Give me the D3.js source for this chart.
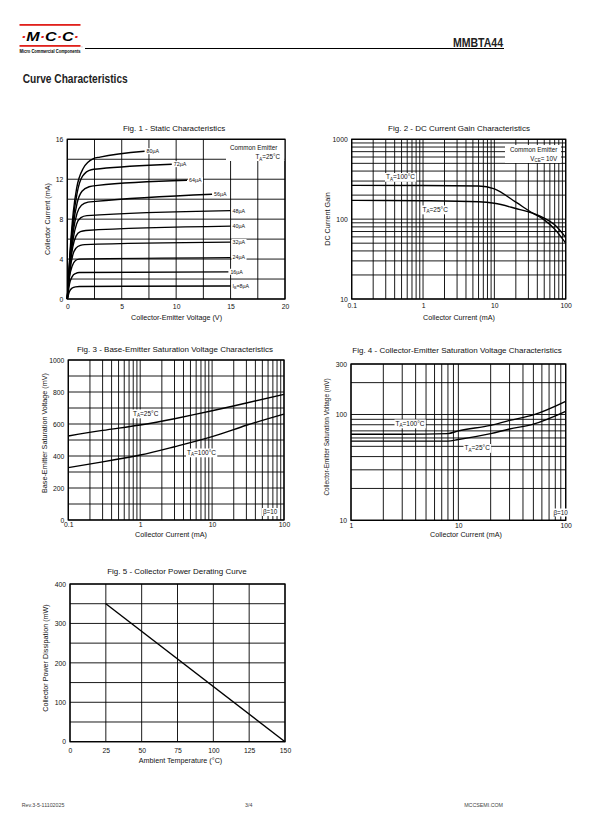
<!DOCTYPE html>
<html><head><meta charset="utf-8">
<script src="https://cdn.jsdelivr.net/npm/d3@7/dist/d3.min.js"></script>
<style>body{margin:0;background:#fff}svg{display:block}</style>
</head><body><svg id="c" width="612" height="825"></svg>
<script>
// ---------------- DATA ----------------
const fig1Labels = ["80µA","72µA","64µA","56µA","48µA","40µA","32µA","24µA","16µA","8µA"];
const fig1Curve80 = [[0,0],[0.25,4.7],[0.55,8.7],[0.86,11.1],[1.47,13.1],[2.4,14.07],[3.0,14.22],[7.1,14.8]];
const fig1Curve72 = [[0,0],[0.25,4.4],[0.55,8.0],[0.9,10.6],[1.4,12.3],[2.2,12.95],[3.0,13.05],[9.6,13.5]];
const fig1Curve64 = [[0,0],[0.25,4.1],[0.55,7.4],[0.9,9.6],[1.35,10.8],[2.0,11.25],[2.8,11.38],[11.0,11.9]];
const fig1Curve56 = [[0,0],[0.25,3.8],[0.55,6.8],[0.9,8.6],[1.3,9.4],[1.9,9.7],[2.6,9.78],[13.3,10.5]];
const fig1Curve48 = [[0,0],[0.25,3.5],[0.55,6.1],[0.85,7.5],[1.25,8.15],[1.8,8.35],[15,8.85]];
const fig1Curve40 = [[0,0],[0.25,3.2],[0.5,5.2],[0.8,6.3],[1.2,6.75],[1.7,6.87],[15,7.3]];
const fig1Curve32 = [[0,0],[0.25,2.9],[0.5,4.4],[0.8,5.1],[1.2,5.38],[1.6,5.45],[15,5.7]];
const fig1Curve24 = [[0,0],[0.2,2.2],[0.45,3.3],[0.75,3.85],[1.1,4.0],[15,4.15]];
const fig1Curve16 = [[0,0],[0.2,1.5],[0.45,2.25],[0.75,2.55],[1.1,2.65],[14.8,2.72]];
const fig1Curve8  = [[0,0],[0.2,0.75],[0.45,1.1],[0.75,1.22],[1.1,1.25],[15,1.3]];
const fig1XTicks = [0,5,10,15,20];
const fig1XGrid = [0,2.5,5,7.5,10,12.5,15,17.5,20];
const fig1YTicks = [0,4,8,12,16];
const fig1YGrid = [0,2,4,6,8,10,12,14,16];

const fig2Current = [0.1,1,6,10,20,35,50,70,100];
const fig2Gain100 = [265,264,260,240,163,118,98,75,50];
const fig2Gain25  = [172,170,165,158,136,118,103,85,59];
const fig2XTicks = [0.1,1,10,100];
const fig2YTicks = [10,100,1000];

const fig3Current = [0.1,0.3,1,3,10,30,100];
const fig3Vbe25  = [525,560,594,633,683,731,785];
const fig3Vbe100 = [327,363,406,458,521,592,662];
const fig3XTicks = [0.1,1,10,100];
const fig3YTicks = [0,200,400,600,800,1000];
const fig3YGrid = [0,100,200,300,400,500,600,700,800,900,1000];

const fig4Current = [1,3,8,10,20,30,50,100];
const fig4Vce100 = [65,65,66,70,79,88,99,133];
const fig4Vce25  = [56,56,56,58,66,73,81,107];
const fig4XTicks = [1,10,100];
const fig4YTicks = [10,100,300];

const fig5Temp = [25,150];
const fig5Power = [350,0];
const fig5XTicks = [0,25,50,75,100,125,150];
const fig5YTicks = [0,100,200,300,400];
const fig5YGrid = [0,50,100,150,200,250,300,350,400];

// ---------------- DRAW ----------------
const FONT = "'Liberation Sans', Arial, Helvetica, sans-serif";
const svg = d3.select("#c").attr("font-family", FONT);

function txt(g, x, y, parts, o = {}) {
  const fs = o.size || 7;
  const t = g.append("text").attr("x", x).attr("y", y)
    .attr("font-size", fs).attr("text-anchor", o.anchor || "start")
    .attr("font-weight", o.weight || "normal").attr("fill", o.fill || "#111");
  if (o.rotate) t.attr("transform", `rotate(-90,${x},${y})`);
  if (typeof parts === "string") parts = [[parts, ""]];
  let sub = false;
  parts.forEach(([s, k]) => {
    const ts = t.append("tspan").text(s);
    if (k === "sub" && !sub) { ts.attr("dy", fs * 0.28).attr("font-size", fs * 0.7); sub = true; }
    else if (k !== "sub" && sub) { ts.attr("dy", -fs * 0.28); sub = false; }
  });
  if (o.bg) {
    const b = t.node().getBBox();
    g.insert("rect", () => t.node()).attr("x", b.x - 1).attr("y", b.y).attr("width", b.width + 2)
      .attr("height", b.height).attr("fill", "#fff");
  }
  return t;
}

function panel(c) {
  const g = svg.append("g");
  const x = c.x.range([c.L, c.R]);
  const y = c.y.range([c.B, c.T]);
  g.selectAll("line.gx").data(c.xGrid).join("line").attr("class", "gx")
    .attr("x1", d => x(d)).attr("x2", d => x(d)).attr("y1", c.T).attr("y2", c.B)
    .attr("stroke", "#000").attr("stroke-width", 0.9);
  g.selectAll("line.gy").data(c.yGrid).join("line").attr("class", "gy")
    .attr("y1", d => y(d)).attr("y2", d => y(d)).attr("x1", c.L).attr("x2", c.R)
    .attr("stroke", "#000").attr("stroke-width", 0.9);
  g.append("rect").attr("x", c.L).attr("y", c.T).attr("width", c.R - c.L).attr("height", c.B - c.T)
    .attr("fill", "none").attr("stroke", "#000").attr("stroke-width", 1.3);
  const ax = d3.axisBottom(x).tickValues(c.xTicks).tickFormat(c.xFmt || (d => d)).tickSize(0).tickPadding(c.xPad == null ? 4 : c.xPad);
  const ay = d3.axisLeft(y).tickValues(c.yTicks).tickFormat(c.yFmt || (d => d)).tickSize(0).tickPadding(4);
  [[ax, `translate(0,${c.B})`], [ay, `translate(${c.L},0)`]].forEach(([a, tr]) => {
    const s = g.append("g").attr("transform", tr).call(a);
    s.select(".domain").remove();
    s.selectAll("text").attr("font-size", 6.8).attr("font-family", FONT).attr("fill", "#111");
  });
  txt(g, c.titleX, c.titleY, c.title, { size: 8, anchor: "middle" });
  txt(g, c.xlX, c.xlY, c.xLabel, { size: 7.2, anchor: "middle" });
  txt(g, c.ylX, c.ylY, c.yLabel, { size: c.ylSize || 7.2, anchor: "middle", rotate: true });
  return { g, x, y };
}

const logFmt = d => String(d);

// Header
const hd = svg.append("g");
hd.append("rect").attr("x", 19.5).attr("y", 24).attr("width", 61).attr("height", 1.8).attr("fill", "#e0201b");
hd.append("rect").attr("x", 19.5).attr("y", 45).attr("width", 61).attr("height", 1.8).attr("fill", "#e0201b");
const logo = hd.append("text").attr("x", 50).attr("y", 40.5).attr("text-anchor", "middle")
  .attr("font-size", 13).attr("font-weight", "bold").attr("font-style", "italic")
  .attr("textLength", 58).attr("lengthAdjust", "spacingAndGlyphs");
[["·", "#e0201b"], ["M", "#000"], ["·", "#e0201b"], ["C", "#000"], ["·", "#e0201b"], ["C", "#000"], ["·", "#e0201b"]]
  .forEach(([s, f]) => logo.append("tspan").text(s).attr("fill", f));
hd.append("text").attr("x", 19.5).attr("y", 53).attr("font-size", 4.6).attr("font-weight", "bold")
  .attr("textLength", 61).attr("lengthAdjust", "spacingAndGlyphs").text("Micro Commercial Components");
hd.append("text").attr("x", 81).attr("y", 48).attr("font-size", 2.5).text("®");
hd.append("line").attr("x1", 85).attr("x2", 504).attr("y1", 48.5).attr("y2", 48.5).attr("stroke", "#000").attr("stroke-width", 1);
hd.append("text").attr("x", 503).attr("y", 46.5).attr("text-anchor", "end").attr("font-size", 12.5)
  .attr("font-weight", "bold").attr("fill", "#222").attr("textLength", 50).attr("lengthAdjust", "spacingAndGlyphs").text("MMBTA44");
hd.append("text").attr("x", 22.7).attr("y", 83.3).attr("font-size", 12.5).attr("font-weight", "bold").attr("fill", "#222")
  .attr("textLength", 105).attr("lengthAdjust", "spacingAndGlyphs").text("Curve Characteristics");

// Footer
[["Rev.3-5-11102025", 21.7, "start"], ["3/4", 245, "start"], ["MCCSEMI.COM", 503, "end"]].forEach(([s, x, a]) =>
  svg.append("text").attr("x", x).attr("y", 806.5).attr("font-size", 5.3).attr("fill", "#444").attr("text-anchor", a).text(s));

// Fig 1
{
  const p = panel({
    L: 67.3, R: 285, T: 139.3, B: 299, xPad: 5,
    x: d3.scaleLinear().domain([0, 20]), y: d3.scaleLinear().domain([0, 16]),
    xGrid: fig1XGrid, yGrid: fig1YGrid, xTicks: fig1XTicks, yTicks: fig1YTicks,
    title: "Fig. 1 - Static Characteristics", titleX: 174, titleY: 131,
    xLabel: "Collector-Emitter Voltage (V)", xlX: 176.5, xlY: 319.5,
    yLabel: "Collector Current (mA)", ylX: 49.8, ylY: 219
  });
  const curves = [fig1Curve80, fig1Curve72, fig1Curve64, fig1Curve56, fig1Curve48, fig1Curve40, fig1Curve32, fig1Curve24, fig1Curve16, fig1Curve8];
  const line = d3.line().x(d => p.x(d[0])).y(d => p.y(d[1])).curve(d3.curveMonotoneX);
  curves.forEach((c, i) => {
    p.g.append("path").attr("d", line(c)).attr("fill", "none").attr("stroke", "#000").attr("stroke-width", 1.4);
    const e = c[c.length - 1];
    const lab = i === 9 ? [["I", ""], ["B", "sub"], ["=8µA", ""]] : fig1Labels[i];
    txt(p.g, p.x(e[0]) + 2, p.y(e[1]) + 1.9, lab, { size: 5.3, bg: true });
  });
  const lg = txt(p.g, 277.3, 149.5, "Common Emitter", { size: 6.3, anchor: "end" });
  txt(p.g, 280, 159.3, [["T", ""], ["A", "sub"], ["=25°C", ""]], { size: 6.3, anchor: "end" });
  p.g.insert("rect", () => lg.node()).attr("x", 226).attr("y", 140).attr("width", 58.3).attr("height", 21).attr("fill", "#fff");
}

// Fig 2
{
  const p = panel({
    L: 351.7, R: 565.7, T: 139.3, B: 299, xPad: 4,
    x: d3.scaleLog().domain([0.1, 100]), y: d3.scaleLog().domain([10, 1000]),
    xGrid: d3.scaleLog().domain([0.1, 100]).ticks(), yGrid: d3.scaleLog().domain([10, 1000]).ticks(),
    xTicks: fig2XTicks, yTicks: fig2YTicks, xFmt: logFmt, yFmt: logFmt,
    title: "Fig. 2 - DC Current Gain Characteristics", titleX: 459, titleY: 131,
    xLabel: "Collector Current (mA)", xlX: 459, xlY: 319.5,
    yLabel: "DC Current Gain", ylX: 329.8, ylY: 219
  });
  const line = d3.line().x((d, i) => p.x(fig2Current[i])).y(d => p.y(d)).curve(d3.curveMonotoneX);
  [fig2Gain100, fig2Gain25].forEach(s => p.g.append("path").attr("d", line(s)).attr("fill", "none").attr("stroke", "#000").attr("stroke-width", 1.4));
  txt(p.g, 386, 179, [["T", ""], ["A", "sub"], ["=100°C", ""]], { size: 6.5, bg: true });
  txt(p.g, 422.5, 211.5, [["T", ""], ["A", "sub"], ["=25°C", ""]], { size: 6.5, bg: true });
  const lg = txt(p.g, 557.3, 151.5, "Common Emitter", { size: 6.3, anchor: "end" });
  txt(p.g, 557.3, 160.5, [["V", ""], ["CE", "sub"], ["= 10V", ""]], { size: 6.3, anchor: "end" });
  p.g.insert("rect", () => lg.node()).attr("x", 505).attr("y", 145).attr("width", 56).attr("height", 18).attr("fill", "#fff");
}

// Fig 3
{
  const p = panel({
    L: 68.3, R: 284, T: 360, B: 520, xPad: 2.5,
    x: d3.scaleLog().domain([0.1, 100]), y: d3.scaleLinear().domain([0, 1000]),
    xGrid: d3.scaleLog().domain([0.1, 100]).ticks(), yGrid: fig3YGrid,
    xTicks: fig3XTicks, yTicks: fig3YTicks, xFmt: logFmt,
    title: "Fig. 3 - Base-Emitter Saturation Voltage Characteristics", titleX: 175, titleY: 351.5,
    xLabel: "Collector Current (mA)", xlX: 171, xlY: 536.5,
    yLabel: "Base-Emitter Saturation Voltage (mV)", ylX: 46.5, ylY: 433
  });
  const line = d3.line().x((d, i) => p.x(fig3Current[i])).y(d => p.y(d)).curve(d3.curveNatural);
  [fig3Vbe25, fig3Vbe100].forEach(s => p.g.append("path").attr("d", line(s)).attr("fill", "none").attr("stroke", "#000").attr("stroke-width", 1.4));
  txt(p.g, 133, 415.5, [["T", ""], ["A", "sub"], ["=25°C", ""]], { size: 6.5, bg: true });
  txt(p.g, 187, 454.5, [["T", ""], ["A", "sub"], ["=100°C", ""]], { size: 6.5, bg: true });
  txt(p.g, 263, 514, "β=10", { size: 6.3, bg: true });
}

// Fig 4
{
  const p = panel({
    L: 351, R: 565.7, T: 364, B: 520.3, xPad: 3,
    x: d3.scaleLog().domain([1, 100]), y: d3.scaleLog().domain([10, 300]),
    xGrid: d3.scaleLog().domain([1, 100]).ticks(), yGrid: d3.scaleLog().domain([10, 300]).ticks(),
    xTicks: fig4XTicks, yTicks: fig4YTicks, xFmt: logFmt, yFmt: logFmt,
    title: "Fig. 4 - Collector-Emitter Saturation Voltage Characteristics", titleX: 457, titleY: 352.5,
    xLabel: "Collector Current (mA)", xlX: 466, xlY: 537,
    yLabel: "Collector-Emitter Saturation Voltage  (mV)", ylX: 329, ylY: 437, ylSize: 6.4
  });
  const line = d3.line().x((d, i) => p.x(fig4Current[i])).y(d => p.y(d)).curve(d3.curveMonotoneX);
  [fig4Vce100, fig4Vce25].forEach(s => p.g.append("path").attr("d", line(s)).attr("fill", "none").attr("stroke", "#000").attr("stroke-width", 1.4));
  txt(p.g, 395.5, 425.5, [["T", ""], ["A", "sub"], ["=100°C", ""]], { size: 6.5, bg: true });
  txt(p.g, 464.5, 450, [["T", ""], ["A", "sub"], ["=25°C", ""]], { size: 6.5, bg: true });
  txt(p.g, 553.5, 514.5, "β=10", { size: 6.3, bg: true });
}

// Fig 5
{
  const p = panel({
    L: 70, R: 285, T: 584, B: 741.7, xPad: 6,
    x: d3.scaleLinear().domain([0, 150]), y: d3.scaleLinear().domain([0, 400]),
    xGrid: fig5XTicks, yGrid: fig5YGrid, xTicks: fig5XTicks, yTicks: fig5YTicks,
    title: "Fig. 5 - Collector Power Derating Curve", titleX: 177, titleY: 573.5,
    xLabel: "Ambient Temperature (°C)", xlX: 180.5, xlY: 763,
    yLabel: "Collector Power Dissipation  (mW)", ylX: 47.5, ylY: 658
  });
  const line = d3.line().x((d, i) => p.x(fig5Temp[i])).y(d => p.y(d));
  p.g.append("path").attr("d", line(fig5Power)).attr("fill", "none").attr("stroke", "#000").attr("stroke-width", 1.4);
}
</script></body></html>
